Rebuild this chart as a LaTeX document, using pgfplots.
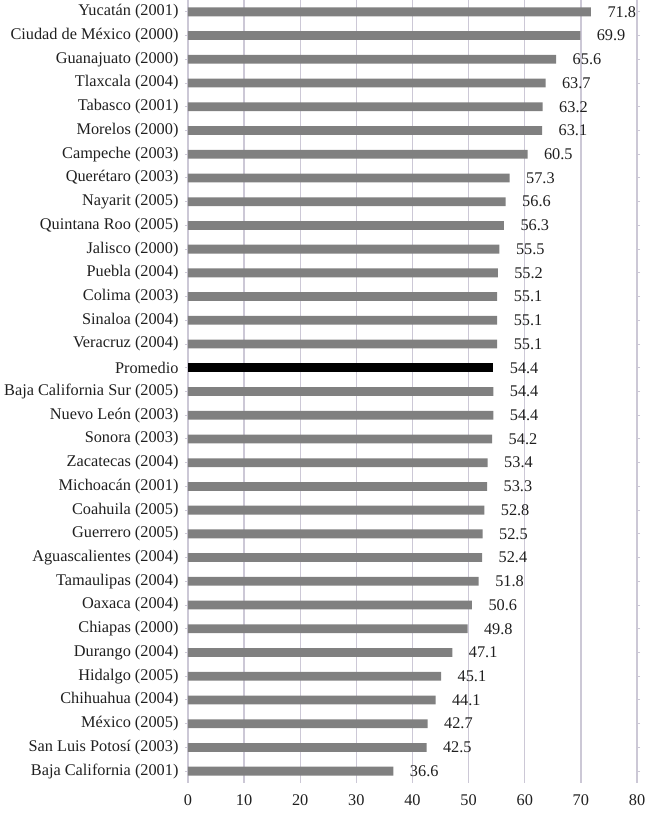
\documentclass[border=0pt]{standalone}
\usepackage{fontspec}
\setmainfont{Liberation Serif}
\usepackage{pgfplots}
\pgfplotsset{compat=1.18}
\definecolor{barg}{RGB}{128,128,128}
\definecolor{gridc}{RGB}{204,200,214}
\begin{document}
\begin{tikzpicture}
\begin{axis}[
  scale only axis, width=449pt, height=783pt,
  xmin=0, xmax=80, ymin=-0.5, ymax=32.5, y dir=reverse,
  xtick={0,10,...,80}, ytick={0,...,32},
  yticklabels={Yucatán (2001),Ciudad de México (2000),Guanajuato (2000),Tlaxcala (2004),Tabasco (2001),Morelos (2000),Campeche (2003),Querétaro (2003),Nayarit (2005),Quintana Roo (2005),Jalisco (2000),Puebla (2004),Colima (2003),Sinaloa (2004),Veracruz (2004),Promedio,Baja California Sur (2005),Nuevo León (2003),Sonora (2003),Zacatecas (2004),Michoacán (2001),Coahuila (2005),Guerrero (2005),Aguascalientes (2004),Tamaulipas (2004),Oaxaca (2004),Chiapas (2000),Durango (2004),Hidalgo (2005),Chihuahua (2004),México (2005),San Luis Potosí (2003),Baja California (2001)},
  axis line style={draw=none},
  xmajorgrids, major grid style={gridc, line width=1.4pt},
  xtick style={draw=none},
  ytick style={draw=gridc, line width=1pt},
  tick align=outside, major tick length=3pt,
  tick label style={font=\fontsize{16.3}{18}\selectfont, text=black!88},
  /pgf/number format/assume math mode=true,
  yticklabel style={xshift=-3pt},
  xticklabel style={yshift=-5pt},
  xbar, bar width=8.8pt, bar shift=0pt,
  nodes near coords={\pgfmathprintnumber[fixed,precision=1,fixed zerofill]{\pgfplotspointmeta}},
  nodes near coords style={font=\fontsize{16.3}{18}\selectfont, text=black!88, anchor=west, xshift=13pt},
  point meta=x,
]
\addplot[fill=barg, draw=none] coordinates {
(71.8,0) (69.9,1) (65.6,2) (63.7,3) (63.2,4) (63.1,5) (60.5,6) (57.3,7) (56.6,8) (56.3,9) (55.5,10) (55.2,11) (55.1,12) (55.1,13) (55.1,14)
(54.4,16) (54.4,17) (54.2,18) (53.4,19) (53.3,20) (52.8,21) (52.5,22) (52.4,23) (51.8,24) (50.6,25) (49.8,26) (47.1,27) (45.1,28) (44.1,29) (42.7,30) (42.5,31) (36.6,32)
};
\addplot[fill=black, draw=none] coordinates {(54.4,15)};
\end{axis}
\pgfresetboundingbox
\path (current axis.south west) ++(-188pt,-34pt) rectangle ([shift={(13pt,0pt)}]current axis.north east);
\end{tikzpicture}
\end{document}
